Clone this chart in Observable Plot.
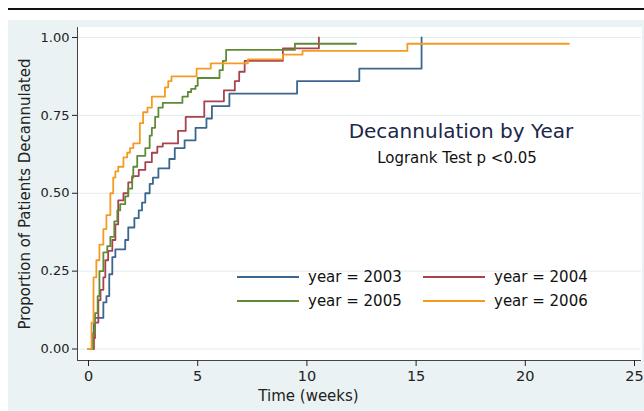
<!DOCTYPE html>
<html><head><meta charset="utf-8">
<script src="https://cdn.jsdelivr.net/npm/d3@7"></script>
<script src="https://cdn.jsdelivr.net/npm/@observablehq/plot@0.6"></script>
<style>
body{margin:0;width:644px;height:411px;overflow:hidden;position:relative;background:#fff;font-family:"DejaVu Sans",sans-serif;}
#rule{position:absolute;left:8px;top:8px;width:636px;height:2px;background:#111;}
#panel{position:absolute;left:8px;top:20px;width:636px;height:391px;background:#eaf2f3;}
#chart{position:absolute;left:0;top:0;}
#title{position:absolute;left:461px;top:119px;transform:translateX(-50%);font-size:20px;line-height:24px;color:#1a2748;white-space:nowrap;}
#sub{position:absolute;left:457px;top:149px;transform:translateX(-50%);font-size:15px;line-height:18px;color:#111;white-space:nowrap;}
.lg{position:absolute;font-size:15px;line-height:18px;color:#111;white-space:nowrap;}
.sw{position:absolute;height:2px;}
</style></head><body>
<div id="rule"></div><div id="panel"></div><div id="chart"></div>
<div id="title">Decannulation by Year</div>
<div id="sub">Logrank Test p &lt;0.05</div>
<div id="legend"></div>
<script>
const years = ["2003", "2004", "2005", "2006"];
const colors = ["#3a6690", "#a8424f", "#5f8b38", "#f59b23"];
const xTicks = [0, 5, 10, 15, 20, 25];
const yTicks = [0, 0.25, 0.5, 0.75, 1];
const xTitle = "Time (weeks)";
const yTitle = "Proportion of Patients Decannulated";

const t2003 = [0, 0.2, 0.25, 0.68, 0.82, 0.95, 1.09, 1.23, 1.68, 1.82, 2.1, 2.3, 2.45, 2.6, 2.8, 2.95, 3.2, 3.7, 3.95, 4.4, 4.9, 5.4, 5.65, 6.45, 9.55, 12.4, 15.25];
const p2003 = [0, 0.05, 0.10, 0.15, 0.17, 0.24, 0.295, 0.32, 0.35, 0.39, 0.42, 0.445, 0.47, 0.50, 0.53, 0.55, 0.58, 0.61, 0.645, 0.67, 0.71, 0.74, 0.78, 0.82, 0.86, 0.90, 1.0];

const t2004 = [0, 0.25, 0.3, 0.45, 0.55, 0.68, 0.77, 0.9, 1.09, 1.23, 1.36, 1.6, 1.82, 2.0, 2.3, 2.6, 2.9, 3.15, 3.4, 4.1, 4.45, 5.3, 6.2, 6.7, 6.9, 7.15, 8.9, 10.55];
const p2004 = [0, 0.035, 0.085, 0.157, 0.19, 0.23, 0.285, 0.315, 0.35, 0.40, 0.477, 0.50, 0.535, 0.555, 0.575, 0.60, 0.63, 0.65, 0.66, 0.70, 0.745, 0.795, 0.83, 0.86, 0.89, 0.925, 0.965, 1.0];

const t2005 = [0, 0.2, 0.3, 0.42, 0.5, 0.68, 0.86, 1.0, 1.18, 1.32, 1.45, 1.68, 1.82, 2.0, 2.05, 2.23, 2.6, 2.8, 2.9, 3.05, 3.2, 3.4, 4.3, 4.55, 4.7, 4.9, 5.0, 6.0, 6.15, 6.3, 9.45, 12.25];
const p2005 = [0, 0.05, 0.115, 0.17, 0.25, 0.31, 0.33, 0.36, 0.41, 0.445, 0.465, 0.49, 0.515, 0.55, 0.585, 0.62, 0.645, 0.685, 0.71, 0.745, 0.775, 0.79, 0.81, 0.825, 0.835, 0.845, 0.87, 0.895, 0.925, 0.96, 0.98, 0.98];

const t2006 = [0, 0.14, 0.23, 0.36, 0.5, 0.68, 0.82, 1.0, 1.13, 1.23, 1.36, 1.6, 1.77, 1.9, 2.05, 2.35, 2.5, 2.7, 2.9, 3.5, 3.65, 3.8, 4.95, 5.6, 7.3, 8.9, 9.8, 14.6, 22.0];
const p2006 = [0, 0.085, 0.23, 0.285, 0.335, 0.385, 0.43, 0.50, 0.55, 0.57, 0.585, 0.615, 0.63, 0.645, 0.66, 0.725, 0.76, 0.775, 0.81, 0.84, 0.86, 0.875, 0.90, 0.917, 0.93, 0.945, 0.957, 0.98, 0.98];

const times = [t2003, t2004, t2005, t2006];
const props = [p2003, p2004, p2005, p2006];
const rows = years.flatMap((yr, i) => times[i].map((t, j) => ({year: yr, t, p: props[i][j]})));

const xDomain = [-0.504, 25.32];
const yDomain = [-0.0369, 1.0321];

const chart = Plot.plot({
  width: 644, height: 411,
  marginLeft: 77, marginRight: 3, marginTop: 27, marginBottom: 51,
  style: {background: "transparent", fontFamily: "DejaVu Sans", fontSize: "13px", color: "#222"},
  x: {domain: xDomain},
  y: {domain: yDomain},
  color: {domain: years, range: colors},
  marks: [
    Plot.frame({fill: "white", stroke: "white"}),
    Plot.ruleY(yTicks, {stroke: "#e3eced", strokeWidth: 1}),
    Plot.line(rows, {x: "t", y: "p", z: "year", stroke: "year", curve: "step-after", strokeWidth: 1.8}),
    Plot.ruleX([xDomain[0]], {stroke: "#444", strokeWidth: 1}),
    Plot.ruleY([yDomain[0]], {stroke: "#444", strokeWidth: 1}),
    Plot.axisY({ticks: yTicks, tickSize: 5, tickPadding: 3, tickFormat: d3.format(".2f"), fontSize: 13, label: null}),
    Plot.axisX({ticks: xTicks, tickSize: 6, tickPadding: 4, fontSize: 14.5, label: null}),
    Plot.text([yTitle], {text: d => d, frameAnchor: "left", textAnchor: "middle", dx: -52, rotate: -90, fontSize: 15, fill: "#222"}),
    Plot.text([xTitle], {text: d => d, frameAnchor: "bottom", textAnchor: "middle", dy: 40, dx: -51, fontSize: 15, fill: "#222"})
  ]
});
document.getElementById("chart").appendChild(chart);

const legend = document.getElementById("legend");
years.forEach((yr, i) => {
  const col = i % 2, row = Math.floor(i / 2);
  const left = 237 + col * 186, cy = 277 + row * 24;
  const sw = document.createElement("div");
  sw.className = "sw";
  sw.style.left = left + "px"; sw.style.top = (cy - 1) + "px"; sw.style.width = "62px";
  sw.style.background = colors[i];
  legend.appendChild(sw);
  const tx = document.createElement("div");
  tx.className = "lg";
  tx.style.left = (left + 71) + "px"; tx.style.top = (cy - 9) + "px";
  tx.textContent = "year = " + yr;
  legend.appendChild(tx);
});
</script>
</body></html>
